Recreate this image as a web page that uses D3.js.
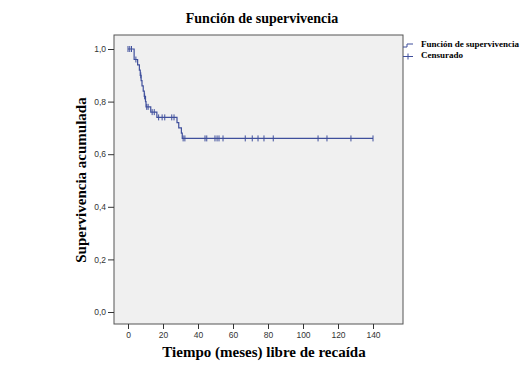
<!DOCTYPE html>
<html>
<head>
<meta charset="utf-8">
<script src="https://cdn.jsdelivr.net/npm/d3@7"></script>
<style>
  body { margin: 0; background: #fff; }
  svg { display: block; }
</style>
</head>
<body>
<svg id="chart"></svg>
<script>
// Kaplan-Meier survival curve (SPSS style)

const eventTimes = [3.5, 5.5, 6.5, 7, 7.5, 8, 8.7, 9.3, 10, 10.3, 13, 16.5, 28, 29, 30.5, 31];
const eventSurv  = [0.96, 0.94, 0.92, 0.90, 0.88, 0.86, 0.84, 0.82, 0.80, 0.78, 0.76, 0.74, 0.72, 0.70, 0.68, 0.66];

const censorTimes = [0, 1, 2, 4.5, 7.3, 9.5, 10.7, 11.5, 13.8, 15, 17.5, 19.5, 21, 25, 26.3,
  31.5, 32.5, 44, 45, 49.7, 50.9, 52, 54.3, 67, 71, 74.3, 77.7, 83, 108.6, 113.7, 127.4, 140];
const censorSurv  = [1, 1, 1, 0.96, 0.90, 0.82, 0.78, 0.78, 0.76, 0.76, 0.74, 0.74, 0.74, 0.74, 0.74,
  0.66, 0.66, 0.66, 0.66, 0.66, 0.66, 0.66, 0.66, 0.66, 0.66, 0.66, 0.66, 0.66, 0.66, 0.66, 0.66, 0.66];

const endTime = 140;
const xTicks = [0, 20, 40, 60, 80, 100, 120, 140];
const yTicks = [0, 0.2, 0.4, 0.6, 0.8, 1.0];

const width = 521, height = 372;
const frame = { left: 114, top: 35, right: 403, bottom: 324 };
const lineColor = "#3f4f9c";

const svg = d3.select("#chart").attr("width", width).attr("height", height);

const x = d3.scaleLinear().domain([0, 140]).range([128, 373]);
const y = d3.scaleLinear().domain([0, 1]).range([312, 49]);

// plot background + frame
svg.append("rect")
    .attr("x", frame.left).attr("y", frame.top)
    .attr("width", frame.right - frame.left)
    .attr("height", frame.bottom - frame.top)
    .attr("fill", "#f0f0f0")
    .attr("stroke", "#555")
    .attr("stroke-width", 1);

const fmt = d => d3.format(".1f")(d).replace(".", ",");

const yAxis = svg.append("g")
    .attr("transform", `translate(${frame.left},0)`)
    .call(d3.axisLeft(y).tickValues(yTicks).tickSize(6).tickPadding(2).tickFormat(fmt));

const xAxis = svg.append("g")
    .attr("transform", `translate(0,${frame.bottom})`)
    .call(d3.axisBottom(x).tickValues(xTicks).tickSize(5).tickPadding(3).tickFormat(d3.format("d")));

[yAxis, xAxis].forEach(g => {
  g.select(".domain").remove();
  g.selectAll(".tick line").attr("stroke", "#333");
  g.selectAll(".tick text")
      .attr("fill", "#333")
      .style("font-family", "'Liberation Sans', Arial, sans-serif")
      .style("font-size", "8.5px");
});

// survival step line
const steps = [{ t: 0, s: 1 }]
    .concat(eventTimes.map((t, i) => ({ t, s: eventSurv[i] })))
    .concat([{ t: endTime, s: eventSurv[eventSurv.length - 1] }]);

const line = d3.line()
    .x(d => x(d.t))
    .y(d => y(d.s))
    .curve(d3.curveStepAfter);

svg.append("path")
    .datum(steps)
    .attr("d", line)
    .attr("fill", "none")
    .attr("stroke", lineColor)
    .attr("stroke-width", 1.2);

// censored marks
svg.append("g").selectAll("line")
    .data(censorTimes.map((t, i) => ({ t, s: censorSurv[i] })))
    .enter().append("line")
    .attr("x1", d => x(d.t)).attr("x2", d => x(d.t))
    .attr("y1", d => y(d.s) - 3).attr("y2", d => y(d.s) + 3)
    .attr("stroke", lineColor)
    .attr("stroke-width", 1);

// titles
const serif = "'Liberation Serif', 'Times New Roman', serif";

svg.append("text")
    .attr("x", 262).attr("y", 23)
    .attr("text-anchor", "middle")
    .style("font-family", serif).style("font-weight", "bold").style("font-size", "14px")
    .text("Función de supervivencia");

svg.append("text")
    .attr("x", 264).attr("y", 357)
    .attr("text-anchor", "middle")
    .style("font-family", serif).style("font-weight", "bold").style("font-size", "15px")
    .text("Tiempo (meses) libre de recaída");

svg.append("text")
    .attr("transform", "translate(86,180) rotate(-90)")
    .attr("text-anchor", "middle")
    .style("font-family", serif).style("font-weight", "bold").style("font-size", "15px")
    .text("Supervivencia acumulada");

// legend
const legend = svg.append("g");
legend.append("path")
    .attr("d", `M${frame.right},47 h4 v-3 h6`)
    .attr("fill", "none").attr("stroke", lineColor);
legend.append("path")
    .attr("d", `M${frame.right},56.5 h10 M${frame.right + 5},53.5 v6`)
    .attr("fill", "none").attr("stroke", lineColor);

legend.selectAll("text")
    .data(["Función de supervivencia", "Censurado"])
    .enter().append("text")
    .attr("x", 421)
    .attr("y", (d, i) => 47 + i * 11)
    .style("font-family", serif).style("font-weight", "bold").style("font-size", "9px")
    .text(d => d);
</script>
</body>
</html>
